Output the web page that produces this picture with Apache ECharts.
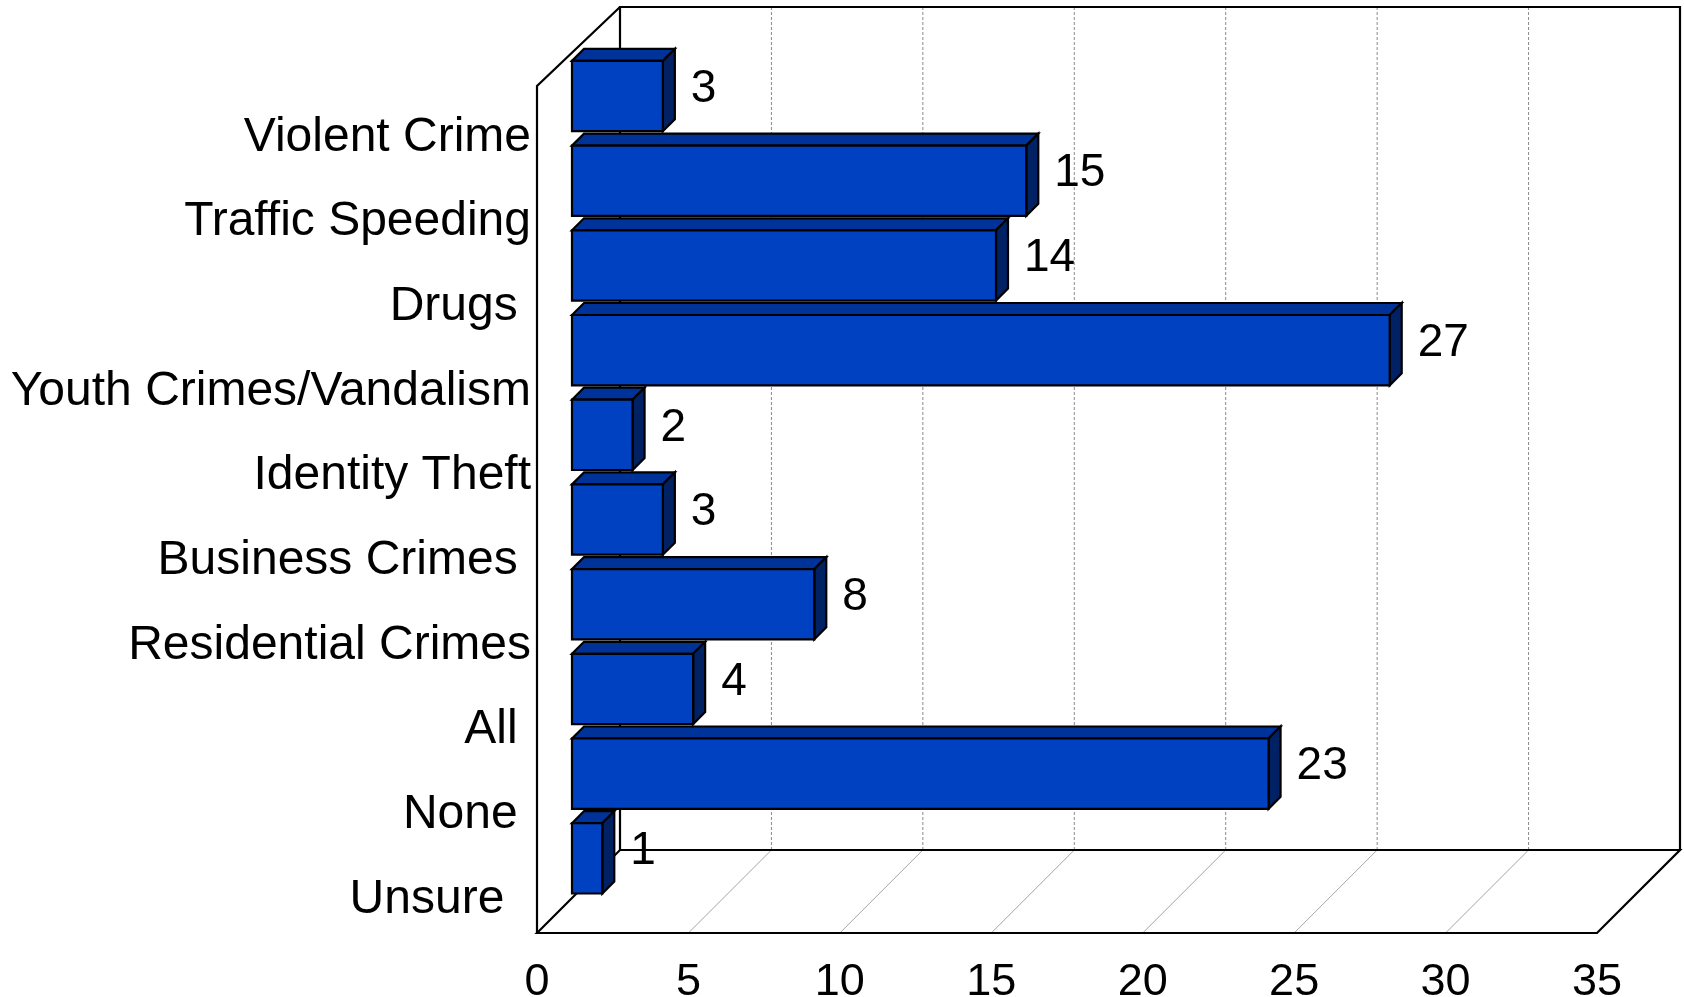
<!DOCTYPE html>
<html>
<head>
<meta charset="utf-8">
<script src="https://cdn.jsdelivr.net/npm/echarts@6/dist/echarts.min.js"></script>
<style>
html,body{margin:0;padding:0;background:#fff;}
#chart{width:1684px;height:997px;}
</style>
</head>
<body>
<div id="chart"></div>
<script>
// ---- data ----
var categories = ['Violent Crime', 'Traffic Speeding', 'Drugs ', 'Youth Crimes/Vandalism', 'Identity Theft', 'Business Crimes ', 'Residential Crimes', 'All ', 'None ', 'Unsure  '];
var values = [3, 15, 14, 27, 2, 3, 8, 4, 23, 1];
var xTicks = [0, 5, 10, 15, 20, 25, 30, 35];

// ---- style constants ----
var FONT = '"Liberation Sans", Arial, Helvetica, sans-serif';
var BOX_DX = 83, BOX_DY_BOTTOM = 83, BOX_DY_TOP = 79;
var BAR_SHIFT_X = 35, BAR_BOTTOM_GAP = 39.5, BAR_FACE_RATIO = 0.83, BAR_DEPTH = 12;
var FRONT = '#0041C1', TOP = '#00339A', SIDE = '#002163';

var chart = echarts.init(document.getElementById('chart'), null, {renderer: 'canvas'});

function renderBox(params, api) {
  var cs = params.coordSys;
  var yTop = cs.y, yBot = cs.y + cs.height;
  var x0 = api.coord([xTicks[0], 0])[0];
  var xN = api.coord([xTicks[xTicks.length - 1], 0])[0];
  var bTop = yTop - BOX_DY_TOP, bBot = yBot - BOX_DY_BOTTOM;
  var blk = {stroke: '#000', lineWidth: 2.2, fill: null};
  var children = [];
  for (var i = 1; i < xTicks.length - 1; i++) {
    var x = api.coord([xTicks[i], 0])[0];
    children.push({type: 'line', shape: {x1: x + BOX_DX, y1: bTop, x2: x + BOX_DX, y2: bBot},
      style: {stroke: '#8a8a8a', lineWidth: 1, lineDash: [3, 2]}});
    children.push({type: 'line', shape: {x1: x, y1: yBot, x2: x + BOX_DX, y2: bBot},
      style: {stroke: '#9a9a9a', lineWidth: 0.9}});
  }
  children.push({type: 'polyline', shape: {points: [[x0 + BOX_DX, bBot], [x0 + BOX_DX, bTop], [xN + BOX_DX, bTop], [xN + BOX_DX, bBot]]}, style: blk});
  children.push({type: 'polygon', shape: {points: [[x0, yBot], [x0 + BOX_DX, bBot], [xN + BOX_DX, bBot], [xN, yBot]]}, style: blk});
  children.push({type: 'polyline', shape: {points: [[x0 + BOX_DX, bTop], [x0, yTop], [x0, yBot]]}, style: blk});
  return {type: 'group', children: children};
}

function renderBar(params, api) {
  var v = api.value(0), cat = api.value(1);
  var p0 = api.coord([0, cat]);
  var p1 = api.coord([v, cat]);
  var bh = api.size([0, 1])[1];
  var bottom = p0[1] + bh / 2 - BAR_BOTTOM_GAP;
  var top = bottom - bh * BAR_FACE_RATIO;
  var left = p0[0] + BAR_SHIFT_X, right = p1[0] + BAR_SHIFT_X;
  var d = BAR_DEPTH;
  var st = function (c) { return {fill: c, stroke: '#000', lineWidth: 2.2, lineJoin: 'miter'}; };
  return {
    type: 'group',
    children: [
      {type: 'polygon', shape: {points: [[left, top], [left + d, top - d], [right + d, top - d], [right, top]]}, style: st(TOP)},
      {type: 'polygon', shape: {points: [[right, top], [right + d, top - d], [right + d, bottom - d], [right, bottom]]}, style: st(SIDE)},
      {type: 'rect', shape: {x: left, y: top, width: right - left, height: bottom - top}, style: st(FRONT)},
      {type: 'text', style: {x: right + d + 16, y: (top + bottom) / 2 - 7, text: String(v),
        font: '46px ' + FONT, fill: '#000', verticalAlign: 'middle', align: 'left'}}
    ]
  };
}

var barData = values.map(function (v, i) { return [v, i]; });

chart.setOption({
  animation: false,
  backgroundColor: '#fff',
  grid: {left: 537, top: 86, width: 1060, height: 847, containLabel: false, outerBoundsMode: 'none'},
  xAxis: {
    type: 'value', min: 0, max: 35, interval: 5,
    axisLine: {show: false}, axisTick: {show: false}, splitLine: {show: false},
    axisLabel: {fontSize: 45, fontFamily: FONT, color: '#000', margin: 27}
  },
  yAxis: {
    type: 'category', inverse: true, data: categories,
    axisLine: {show: false}, axisTick: {show: false}, splitLine: {show: false},
    axisLabel: {fontSize: 48, fontFamily: FONT, color: '#000', margin: 6, verticalAlign: 'top', lineHeight: 18}
  },
  series: [
    {type: 'custom', z: 1, silent: true, clip: false, renderItem: renderBox, data: [[0, 0]], encode: {x: 0, y: 1}},
    {type: 'custom', z: 2, silent: true, clip: false, renderItem: renderBar, data: barData, encode: {x: 0, y: 1}}
  ]
});
</script>
</body>
</html>
